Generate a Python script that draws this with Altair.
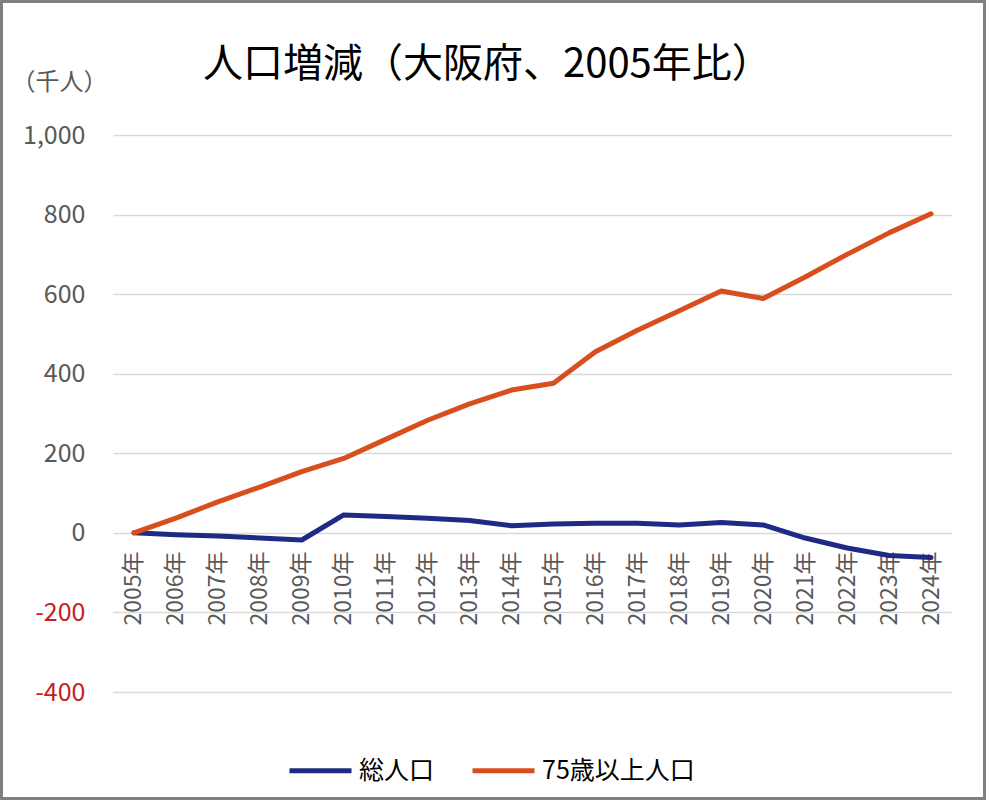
import altair as alt
import pandas as pd

years = [f"{y}年" for y in range(2005, 2025)]
total_pop = [0, -5, -8, -13, -18, 45, 41, 37, 31, 18, 22, 24, 24, 20, 26, 20, -13, -38, -57, -62]
over75_pop = [0, 37, 78, 115, 154, 187, 235, 283, 324, 359, 376, 455, 509, 558, 608, 589, 643, 700, 754, 802]
series_names = ["総人口", "75歳以上人口"]
series_colors = ["#1F2A84", "#D84E1C"]
y_ticks = [-400, -200, 0, 200, 400, 600, 800, 1000]

rows = []
for name, vals in zip(series_names, [total_pop, over75_pop]):
    for yr, v in zip(years, vals):
        rows.append({"year": yr, "value": v, "series": name})
df = pd.DataFrame(rows)

FONT = "Noto Sans CJK JP"
W, H = 839, 557
PL, PT, PR, PB = 113, 135, 34, 108

lines = alt.Chart(df).mark_line(strokeWidth=5, strokeCap="round", strokeJoin="round").encode(
    x=alt.X("year:O", sort=years,
            scale=alt.Scale(type="point", padding=0.5),
            axis=alt.Axis(title=None, orient="bottom", offset=-159, domain=False, ticks=False,
                          labelAngle=270, labelAlign="right", labelBaseline="middle",
                          labelPadding=18, labelFontSize=23, labelColor="#595959",
                          labelFont=FONT, grid=False)),
    y=alt.Y("value:Q",
            scale=alt.Scale(domain=[-400, 1000], nice=False, zero=False),
            axis=alt.Axis(values=y_ticks,
                          labelExpr="replace(format(datum.value, ',.0f'), '\u2212', '-')",
                          title="（千人）", titleAngle=0,
                          titleX=-102, titleY=-53, titleAlign="left", titleBaseline="middle",
                          titleFontSize=24, titleFontWeight="normal", titleColor="#595959",
                          titleFont=FONT,
                          domain=False, ticks=False, labelPadding=28, labelFontSize=25,
                          labelFont=FONT,
                          labelColor={"condition": {"test": "datum.value < 0", "value": "#C81E1E"},
                                      "value": "#595959"},
                          grid=True, gridColor="#D9D9D9", gridWidth=1.5)),
    color=alt.Color("series:N",
                    scale=alt.Scale(domain=series_names, range=series_colors),
                    legend=alt.Legend(title=None, orient="none", direction="horizontal",
                                      legendX=174, legendY=602, symbolType="stroke",
                                      symbolSize=3844, symbolStrokeWidth=5,
                                      labelFontSize=25, labelColor="#000000", labelFont=FONT,
                                      labelOffset=5, columnPadding=27, padding=0)),
)

frame = alt.Chart(pd.DataFrame({"a": [0]})).mark_rect(
    fill=None, stroke="#808080", strokeWidth=3
).encode(
    x=alt.value(-PL + 1.5), x2=alt.value(W + PR - 1.5),
    y=alt.value(-PT + 1.5), y2=alt.value(H + PB - 1.5),
)

chart = alt.layer(lines, frame).properties(
    width=W, height=H,
    padding={"left": PL, "top": PT, "right": PR, "bottom": PB},
    autosize=alt.AutoSizeParams(type="none"),
    title=alt.TitleParams("人口増減（大阪府、2005年比）", anchor="start", frame="group",
                          dx=90, dy=85, offset=0, fontSize=40, fontWeight="normal",
                          font=FONT, color="#000000"),
).configure(background="white", view=alt.ViewConfig(stroke="transparent"))

chart.save("out.html", embed_options={"renderer": "svg", "actions": False})
